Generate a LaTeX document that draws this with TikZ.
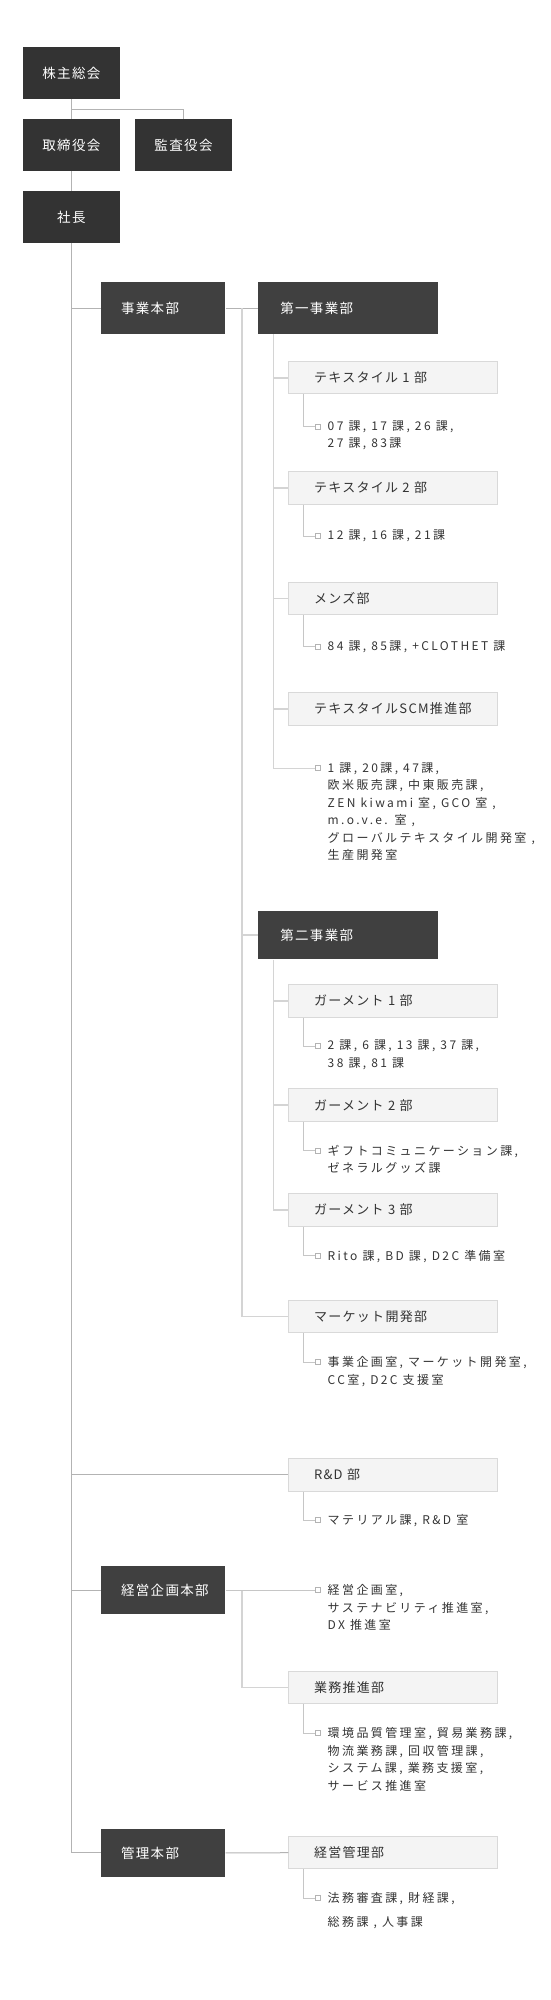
\documentclass[tikz,border=0pt]{standalone}
\usepackage{fontspec}
\newfontfamily\boxfont[LetterSpace=10]{Noto Sans CJK JP}
\newfontfamily\kafont[LetterSpace=20]{Noto Sans CJK JP}
\definecolor{darkbox}{HTML}{333333}
\definecolor{darkboxb}{HTML}{404040}
\definecolor{graybox}{HTML}{F4F4F4}
\definecolor{grayedge}{HTML}{D9D9D9}
\definecolor{ink}{HTML}{333333}
\definecolor{trunkgray}{HTML}{B3B3B3}
\definecolor{branchgray}{HTML}{D4D4D4}
\definecolor{kagray}{HTML}{C6C6C6}

\tikzset{
  topbox/.style={fill=darkbox, text=white, minimum width=96.7pt, minimum height=51.7pt,
    inner sep=0pt, font=\boxfont\fontsize{13.5}{16}\selectfont},
  honbu/.style={fill=darkboxb, text=white, inner xsep=19.7pt, inner ysep=0pt, text width=84.6pt,
    align=left, minimum height=48.3pt, font=\boxfont\fontsize{13.5}{16}\selectfont},
  jigyobu/.style={honbu, inner xsep=22pt, text width=135.4pt},
  bu/.style={fill=graybox, draw=grayedge, line width=1pt, text=ink, inner xsep=25.3pt, inner ysep=0pt,
    text width=157.7pt, align=left, minimum height=32.5pt, font=\boxfont\fontsize{13}{16}\selectfont},
  ka/.style={anchor=north west, inner sep=0pt, align=left, text=ink,
    font=\kafont\fontsize{12}{17.5}\selectfont},
  sq/.style={draw=trunkgray, fill=white, line width=0.8pt, minimum size=5pt, inner sep=0pt},
  mainline/.style={draw=trunkgray, line width=1pt},
  subline/.style={draw=branchgray, line width=1.6pt},
  kaline/.style={draw=kagray, line width=1pt}
}

\begin{document}
\begin{tikzpicture}[x=1pt, y=-1pt]
\useasboundingbox (0,0) rectangle (550,2000);

\node[topbox] (agm) at (71.4,72.9) {株主総会};
\node[topbox] (board) at (71.4,144.9) {取締役会};
\node[topbox] (audit) at (183.5,144.9) {監査役会};
\node[topbox] (pres) at (71.4,216.9) {社長};

\node[honbu, minimum height=51.7pt] (jhonbu) at (163.3,308) {事業本部};
\node[jigyobu, minimum height=51.7pt] (dai1) at (348,308) {第一事業部};
\node[bu] (tex1) at (392.9,377.7) {テキスタイル 1 部};
\node[bu] (tex2) at (392.9,488) {テキスタイル 2 部};
\node[bu] (mens) at (392.9,598.3) {メンズ部};
\node[bu] (scm) at (392.9,709) {テキスタイルSCM推進部};
\node[jigyobu] (dai2) at (348,935.2) {第二事業部};
\node[bu] (gm1) at (392.9,1000.8) {ガーメント 1 部};
\node[bu] (gm2) at (392.9,1105.2) {ガーメント 2 部};
\node[bu] (gm3) at (392.9,1209.8) {ガーメント 3 部};
\node[bu] (mkt) at (392.9,1316.3) {マーケット開発部};
\node[bu] (rd) at (392.9,1474.8) {R\&D 部};
\node[honbu] (kikaku) at (163.3,1590.2) {経営企画本部};
\node[bu] (gyomu) at (392.9,1687.5) {業務推進部};
\node[honbu] (kanri) at (163.3,1852.9) {管理本部};
\node[bu] (keiei) at (392.9,1852.7) {経営管理部};

\node[sq] (s1) at (317.5,426.5) {};
\node[sq] (s2) at (317.5,536) {};
\node[sq] (s3) at (317.5,646.7) {};
\node[sq] (s4) at (317.5,768.3) {};
\node[sq] (s5) at (317.5,1046) {};
\node[sq] (s6) at (317.5,1150.7) {};
\node[sq] (s7) at (317.5,1255.7) {};
\node[sq] (s8) at (317.5,1362.3) {};
\node[sq] (s9) at (317.5,1520) {};
\node[sq] (s10) at (317.5,1590.2) {};
\node[sq] (s11) at (317.5,1733.3) {};
\node[sq] (s12) at (317.5,1898.3) {};

\node[ka] (k1) at (327.5,420.5) {07 課, 17 課, 26 課,\\27 課, 83課};
\node[ka] (k2) at (327.5,530) {12 課, 16 課, 21課};
\node[ka] (k3) at (327.5,640.7) {84 課, 85課, +CLOTHET 課};
\node[ka] (k4) at (327.5,762.3) {1 課, 20課, 47課,\\欧米販売課, 中東販売課,\\ZEN kiwami 室, GCO 室 ,\\m.o.v.e. 室 ,\\グローバルテキスタイル開発室 ,\\生産開発室};
\node[ka] (k5) at (327.5,1040) {2 課, 6 課, 13 課, 37 課,\\38 課, 81 課};
\node[ka] (k6) at (327.5,1144.7) {ギフトコミュニケーション課,\\ゼネラルグッズ課};
\node[ka] (k7) at (327.5,1249.7) {Rito 課, BD 課, D2C 準備室};
\node[ka] (k8) at (327.5,1356.3) {事業企画室, マーケット開発室,\\CC室, D2C 支援室};
\node[ka] (k9) at (327.5,1514) {マテリアル課, R\&D 室};
\node[ka] (k10) at (327.5,1584.2) {経営企画室,\\サステナビリティ推進室,\\DX 推進室};
\node[ka] (k11) at (327.5,1727.3) {環境品質管理室, 貿易業務課,\\物流業務課, 回収管理課,\\システム課, 業務支援室,\\サービス推進室};
\node[ka] (k12) at (327.5,1892.3) {法務審査課, 財経課,\\[5.9pt]総務課 , 人事課};

\coordinate (jt) at (241.7,308);
\coordinate (d1t) at ([xshift=15.4pt]dai1.south west);
\coordinate (d2t) at ([xshift=15.4pt]dai2.south west);
\coordinate (kt) at (241.7,1590.2);

\draw[mainline] (agm.south) -- (board.north);
\draw[mainline] (agm.south) ++(0,10.6) -| (audit.north);
\draw[mainline] (board.south) -- (pres.north);
\draw[mainline] (pres.south) |- (kanri.west);
\draw[mainline] (pres.south |- jhonbu.west) -- (jhonbu.west);
\draw[mainline] (pres.south |- rd.west) -- (rd.west);
\draw[mainline] (pres.south |- kikaku.west) -- (kikaku.west);
\draw[mainline] (jhonbu.east) -- (dai1.west);
\draw[mainline] (kanri.east) -- (keiei.west);

\draw[subline] (jt) |- (mkt.west);
\draw[subline] (jt |- dai2.west) -- (dai2.west);
\draw[subline] (d1t) |- (s4.west);
\draw[subline] (d1t |- tex1.west) -- (tex1.west);
\draw[subline] (d1t |- tex2.west) -- (tex2.west);
\draw[subline] (d1t |- mens.west) -- (mens.west);
\draw[subline] (d1t |- scm.west) -- (scm.west);
\draw[subline] (d2t) |- (gm3.west);
\draw[subline] (d2t |- gm1.west) -- (gm1.west);
\draw[subline] (d2t |- gm2.west) -- (gm2.west);
\draw[subline] (kt) |- (gyomu.west);
\draw[kaline] (kikaku.east) -- (s10.west);

\draw[kaline] ([xshift=15.3pt]tex1.south west) |- (s1.west);
\draw[kaline] ([xshift=15.3pt]tex2.south west) |- (s2.west);
\draw[kaline] ([xshift=15.3pt]mens.south west) |- (s3.west);
\draw[kaline] ([xshift=15.3pt]gm1.south west) |- (s5.west);
\draw[kaline] ([xshift=15.3pt]gm2.south west) |- (s6.west);
\draw[kaline] ([xshift=15.3pt]gm3.south west) |- (s7.west);
\draw[kaline] ([xshift=15.3pt]mkt.south west) |- (s8.west);
\draw[kaline] ([xshift=15.3pt]rd.south west) |- (s9.west);
\draw[kaline] ([xshift=15.3pt]gyomu.south west) |- (s11.west);
\draw[kaline] ([xshift=15.3pt]keiei.south west) |- (s12.west);
\end{tikzpicture}
\end{document}
